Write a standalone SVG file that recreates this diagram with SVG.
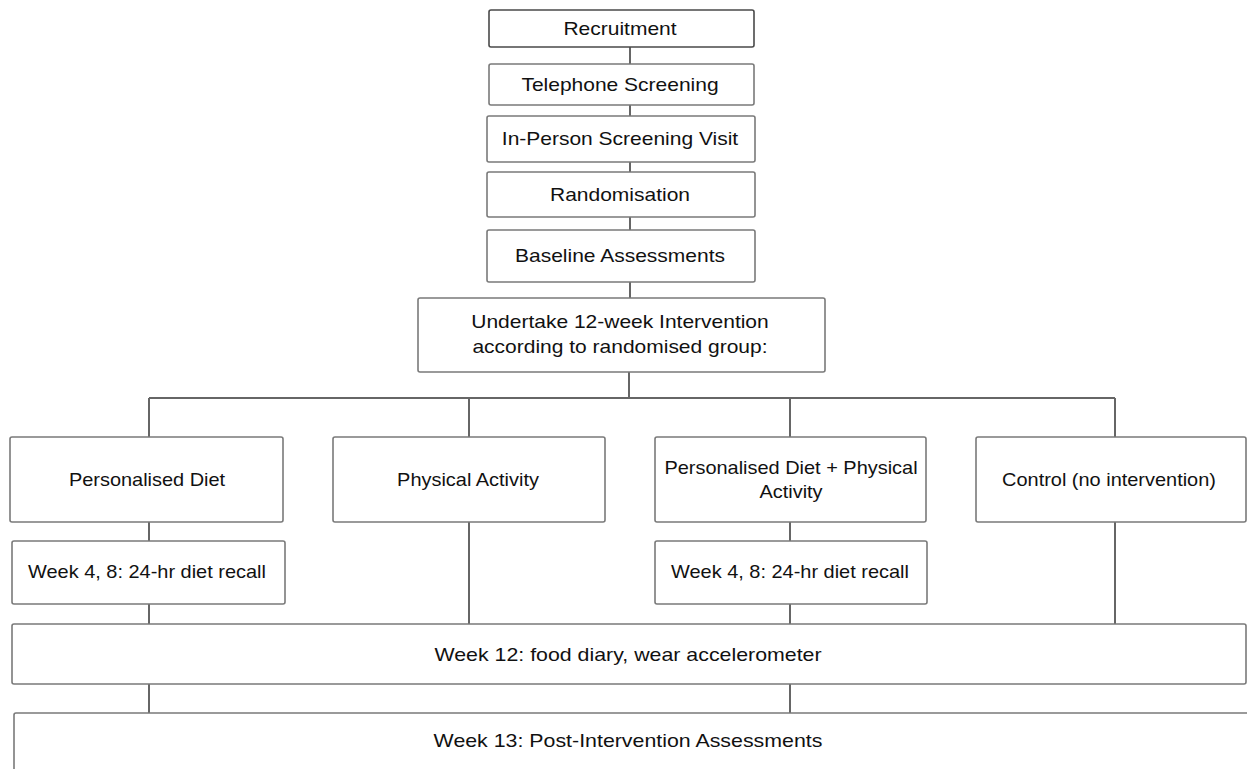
<svg xmlns="http://www.w3.org/2000/svg" width="1247" height="769" viewBox="0 0 1247 769">
<style>
.box{fill:#fff;stroke:#7a7a7a;stroke-width:1.6}
.dark{stroke:#4a4a4a}
.conn{stroke:#666;stroke-width:2;fill:none}
text{font-family:"Liberation Sans",Arial,sans-serif;font-size:17.5px;fill:#111;text-anchor:middle}
</style>
<rect width="1247" height="769" fill="#fff"/>
<g id="connectors">
<path class="conn" d="M630 47V64M630 105V116M630 162V172M630 217V230M630 282V298M629 372V398M149 398H1115M149 398V437M469 398V437M790 398V437M1115 398V437M149 522V541M149 604V624M469 522V624M790 522V541M790 604V624M1115 522V624M149 684V713M790 684V713"/>
</g>
<g id="recruitment"><rect class="box dark" x="489" y="10" width="265" height="37" rx="2"/><text transform="translate(620,35) scale(1.2,1)">Recruitment</text></g>
<g id="telephone"><rect class="box" x="489" y="64" width="265" height="41" rx="2"/><text transform="translate(620,91) scale(1.2,1)">Telephone Screening</text></g>
<g id="inperson"><rect class="box" x="487" y="116" width="268" height="46" rx="2"/><text transform="translate(620,145) scale(1.2,1)">In-Person Screening Visit</text></g>
<g id="randomisation"><rect class="box" x="487" y="172" width="268" height="45" rx="2"/><text transform="translate(620,201) scale(1.2,1)">Randomisation</text></g>
<g id="baseline"><rect class="box" x="487" y="230" width="268" height="52" rx="2"/><text transform="translate(620,262) scale(1.2,1)">Baseline Assessments</text></g>
<g id="undertake"><rect class="box" x="418" y="298" width="407" height="74" rx="2"/><text transform="translate(620,328) scale(1.2,1)">Undertake 12-week Intervention</text><text transform="translate(620,353) scale(1.2,1)">according to randomised group:</text></g>
<g id="diet"><rect class="box" x="10" y="437" width="273" height="85" rx="2"/><text transform="translate(147,486) scale(1.14,1)">Personalised Diet</text></g>
<g id="activity"><rect class="box" x="333" y="437" width="272" height="85" rx="2"/><text transform="translate(468,486) scale(1.14,1)">Physical Activity</text></g>
<g id="combined"><rect class="box" x="655" y="437" width="271" height="85" rx="2"/><text transform="translate(791,474) scale(1.14,1)">Personalised Diet + Physical</text><text transform="translate(791,498) scale(1.14,1)">Activity</text></g>
<g id="control"><rect class="box" x="976" y="437" width="270" height="85" rx="2"/><text transform="translate(1109,486) scale(1.14,1)">Control (no intervention)</text></g>
<g id="recall1"><rect class="box" x="12" y="541" width="273" height="63" rx="2"/><text transform="translate(147,578) scale(1.14,1)">Week 4, 8: 24-hr diet recall</text></g>
<g id="recall2"><rect class="box" x="655" y="541" width="272" height="63" rx="2"/><text transform="translate(790,578) scale(1.14,1)">Week 4, 8: 24-hr diet recall</text></g>
<g id="week12"><rect class="box" x="12" y="624" width="1234" height="60" rx="2"/><text transform="translate(628,661) scale(1.22,1)">Week 12: food diary, wear accelerometer</text></g>
<g id="week13"><rect class="box" x="14" y="713" width="1250" height="70" rx="2"/><text transform="translate(628,747) scale(1.22,1)">Week 13: Post-Intervention Assessments</text></g>
</svg>
